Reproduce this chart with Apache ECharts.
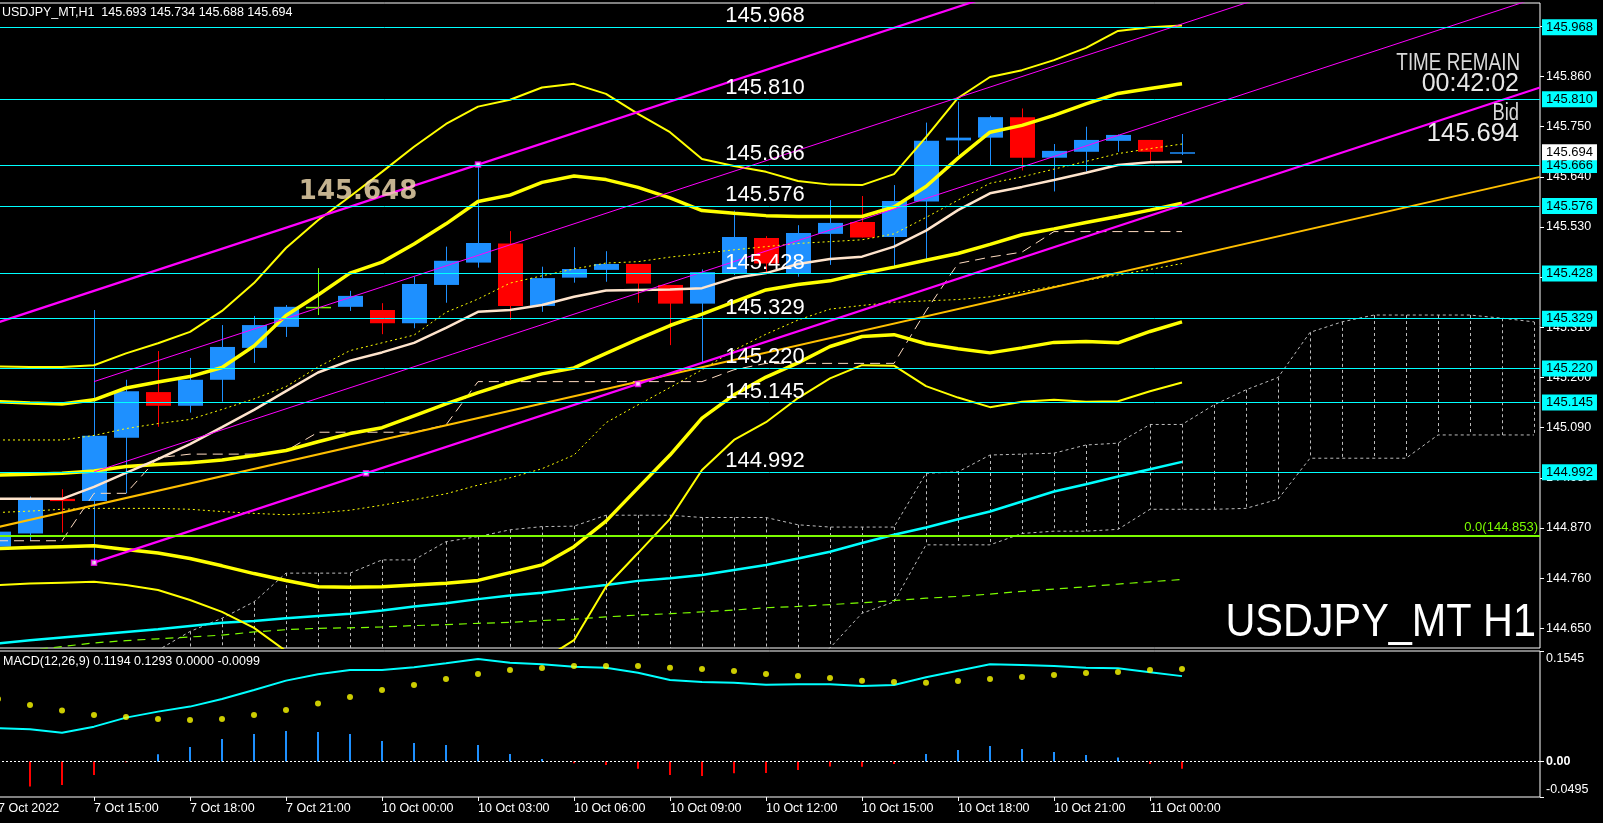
<!DOCTYPE html>
<html>
<head>
<meta charset="utf-8">
<title>USDJPY_MT H1</title>
<script src="https://cdn.jsdelivr.net/npm/echarts@6.0.0/dist/echarts.min.js"></script>
<style>
html,body{margin:0;padding:0;background:#000;overflow:hidden;}
#chart{width:1603px;height:823px;}
</style>
</head>
<body>
<div id="chart"></div>
<script>
const FONT = '"Liberation Sans", Arial, sans-serif';

// ---------- time axis: H1 bars, index 0 = 7 Oct 2022 12:00 ----------
const xTickIdx = [0,3,6,9,12,15,18,21,24,27,30,33,36];
const xTickLabels = ['7 Oct 2022','7 Oct 15:00','7 Oct 18:00','7 Oct 21:00','10 Oct 00:00','10 Oct 03:00',
  '10 Oct 06:00','10 Oct 09:00','10 Oct 12:00','10 Oct 15:00','10 Oct 18:00','10 Oct 21:00','11 Oct 00:00'];

// ---------- price axis tick labels ----------
const yTickLabels = ['144.650','144.760','144.870','144.980','145.090','145.200','145.310','145.420','145.530','145.640','145.750','145.860','145.970'];
const macdTickVals = [-0.0495, 0, 0.1545];
const macdTickLabels = ['-0.0495','0.00','0.1545'];

// ---------- candles (O,H,L,C) ----------
const opens  = [144.829,144.858,144.934,144.929,145.068,145.168,145.138,145.195,145.265,145.311,145.355,145.355,145.348,145.319,145.403,145.452,145.494,145.357,145.419,145.436,145.449,145.403,145.362,145.427,145.506,145.427,145.515,145.541,145.508,145.586,145.720,145.726,145.771,145.682,145.695,145.719,145.721,145.693];
const highs  = [144.872,144.939,144.955,145.348,145.195,145.258,145.243,145.315,145.335,145.359,145.440,145.390,145.363,145.421,145.487,145.667,145.521,145.443,145.486,145.477,145.449,145.403,145.437,145.566,145.510,145.534,145.589,145.598,145.622,145.759,145.805,145.774,145.790,145.712,145.750,145.733,145.721,145.734];
const lows   = [144.824,144.842,144.860,144.794,144.946,145.092,145.123,145.147,145.232,145.289,145.337,145.346,145.295,145.308,145.364,145.441,145.326,145.344,145.408,145.410,145.364,145.271,145.233,145.425,145.427,145.421,145.447,145.507,145.440,145.459,145.688,145.665,145.654,145.608,145.652,145.695,145.672,145.688];
const closes = [144.862,144.934,144.929,145.072,145.170,145.138,145.195,145.267,145.315,145.355,145.355,145.379,145.319,145.405,145.456,145.495,145.357,145.418,145.438,145.449,145.406,145.362,145.431,145.508,145.450,145.517,145.539,145.507,145.587,145.719,145.726,145.771,145.682,145.697,145.721,145.732,145.695,145.694];

// ---------- Bollinger bands ----------
const bbUpper3 = [145.224,145.223,145.223,145.227,145.253,145.275,145.300,145.346,145.407,145.484,145.545,145.597,145.651,145.706,145.756,145.794,145.809,145.836,145.844,145.822,145.778,145.738,145.679,145.664,145.651,145.631,145.623,145.622,145.646,145.727,145.813,145.859,145.874,145.896,145.923,145.960,145.968,145.972];
const bbUpper2 = [145.147,145.144,145.142,145.151,145.177,145.190,145.202,145.222,145.269,145.336,145.381,145.429,145.453,145.493,145.537,145.586,145.600,145.628,145.642,145.634,145.617,145.594,145.566,145.560,145.555,145.553,145.553,145.553,145.574,145.619,145.681,145.738,145.753,145.775,145.800,145.823,145.834,145.844];
const bbMid    = [144.986,144.988,144.990,144.995,145.005,145.009,145.013,145.019,145.029,145.040,145.059,145.077,145.090,145.116,145.142,145.167,145.189,145.208,145.221,145.253,145.284,145.314,145.339,145.366,145.392,145.404,145.412,145.428,145.442,145.457,145.472,145.492,145.513,145.526,145.540,145.553,145.567,145.582];
const bbLower2 = [144.825,144.827,144.829,144.831,144.823,144.815,144.803,144.787,144.770,144.755,144.741,144.740,144.741,144.745,144.749,144.755,144.772,144.789,144.829,144.885,144.958,145.030,145.111,145.162,145.201,145.232,145.268,145.290,145.294,145.274,145.263,145.254,145.265,145.277,145.279,145.276,145.301,145.322];
const bbLower3 = [144.745,144.748,144.750,144.752,144.745,144.734,144.712,144.686,144.651,144.600,144.570,144.550,144.545,144.550,144.550,144.540,144.570,144.580,144.624,144.741,144.815,144.890,144.997,145.063,145.102,145.155,145.198,145.227,145.226,145.181,145.156,145.135,145.147,145.151,145.147,145.148,145.170,145.189];

// ---------- moving averages / ichimoku lines ----------
const maPink    = [144.934,144.934,144.934,144.960,144.991,145.021,145.054,145.091,145.129,145.170,145.211,145.237,145.255,145.276,145.309,145.344,145.348,145.359,145.377,145.391,145.392,145.393,145.396,145.418,145.429,145.449,145.460,145.465,145.487,145.522,145.567,145.604,145.618,145.633,145.649,145.666,145.672,145.673];
const maDotUp   = [145.063,145.063,145.063,145.073,145.088,145.099,145.108,145.130,145.153,145.180,145.223,145.259,145.276,145.293,145.343,145.372,145.407,145.423,145.438,145.451,145.454,145.464,145.472,145.480,145.487,145.494,145.498,145.502,145.515,145.551,145.589,145.626,145.640,145.657,145.674,145.691,145.702,145.712];
const maDotLow  = [144.904,144.907,144.911,144.913,144.913,144.913,144.911,144.906,144.902,144.899,144.903,144.909,144.920,144.932,144.945,144.964,144.980,145.000,145.030,145.101,145.140,145.178,145.217,145.260,145.295,145.326,145.350,145.358,145.365,145.368,145.371,145.377,145.388,145.400,145.413,145.425,145.437,145.450];
const maCyan    = [144.617,144.624,144.630,144.636,144.642,144.648,144.655,144.662,144.666,144.672,144.677,144.682,144.689,144.698,144.705,144.714,144.722,144.728,144.737,144.745,144.754,144.760,144.767,144.778,144.789,144.803,144.818,144.837,144.855,144.871,144.889,144.906,144.928,144.950,144.966,144.983,144.999,145.015];
const maGreen   = [144.598,144.602,144.610,144.618,144.623,144.627,144.631,144.635,144.642,144.647,144.650,144.651,144.653,144.656,144.658,144.661,144.663,144.667,144.670,144.675,144.679,144.682,144.686,144.690,144.695,144.698,144.702,144.706,144.711,144.716,144.720,144.725,144.731,144.736,144.741,144.747,144.752,144.757];
const kijun     = [144.842,144.842,144.842,144.946,144.946,145.024,145.032,145.032,145.032,145.039,145.080,145.080,145.080,145.080,145.096,145.191,145.191,145.191,145.191,145.191,145.191,145.191,145.191,145.217,145.231,145.231,145.231,145.231,145.231,145.346,145.450,145.464,145.475,145.520,145.520,145.520,145.520,145.520];
// cloud spans (shifted 26 bars ahead, indices 0..48)
const spanA = [144.550,144.550,144.550,144.560,144.580,144.602,144.643,144.672,144.708,144.771,144.771,144.771,144.800,144.800,144.840,144.851,144.866,144.873,144.874,144.898,144.898,144.898,144.893,144.893,144.893,144.877,144.872,144.872,144.872,144.990,144.993,145.030,145.032,145.034,145.052,145.056,145.097,145.097,145.140,145.173,145.200,145.299,145.322,145.337,145.337,145.337,145.337,145.330,145.322];
const spanB = [144.450,144.450,144.450,144.450,144.450,144.450,144.450,144.450,144.450,144.450,144.450,144.450,144.450,144.450,144.450,144.450,144.450,144.450,144.450,144.450,144.450,144.450,144.450,144.450,144.450,144.560,144.607,144.683,144.708,144.833,144.833,144.833,144.858,144.863,144.863,144.867,144.911,144.911,144.911,144.913,144.933,145.023,145.023,145.023,145.023,145.074,145.074,145.074,145.074];

// ---------- drawn objects ----------
const hLevels = [145.968,145.810,145.666,145.576,145.428,145.329,145.220,145.145,144.992];
const fibLevel = 144.853;
const orangeTrend   = [[0,144.872],[48.1875,145.640]];
const chanLower     = [[3,144.794],[48.1875,145.836]];
const chanUpper     = [[-0.25,145.315],[31,146.036]];
const chanThinA     = [[3,145.191],[39.5,146.033]];
const chanThinB     = [[3,144.993],[48.1875,146.035]];
const chanAnchors   = [[3,144.794],[11.5,144.990],[20,145.186],[15,145.667]];
const priceNote     = [[9.4,145.648]];

// ---------- MACD(12,26,9) ----------
const macdMain = [0.0465,0.0451,0.0404,0.0488,0.0614,0.0698,0.0768,0.0875,0.1000,0.1131,0.1219,0.1280,0.1280,0.1317,0.1373,0.1433,0.1382,0.1359,0.1326,0.1312,0.1242,0.1140,0.1112,0.1103,0.1074,0.1080,0.1080,0.1056,0.1070,0.1177,0.1270,0.1359,0.1349,0.1336,0.1312,0.1303,0.1247,0.1194];
const macdSignal = [0.0875,0.0791,0.0712,0.0651,0.0623,0.0595,0.0581,0.0595,0.0651,0.0721,0.0810,0.0903,0.1000,0.1070,0.1154,0.1224,0.1280,0.1308,0.1336,0.1336,0.1336,0.1312,0.1294,0.1266,0.1224,0.1196,0.1168,0.1131,0.1112,0.1103,0.1126,0.1154,0.1182,0.1210,0.1238,0.1252,0.1280,0.1293];
const macdHist = [-0.0400,-0.0349,-0.0326,-0.0186,-0.0008,0.0102,0.0205,0.0317,0.0387,0.0428,0.0414,0.0387,0.0289,0.0261,0.0233,0.0233,0.0107,0.0037,-0.0023,-0.0047,-0.0102,-0.0186,-0.0200,-0.0163,-0.0158,-0.0116,-0.0070,-0.0074,-0.0033,0.0107,0.0163,0.0219,0.0177,0.0135,0.0093,0.0056,-0.0033,-0.0099];

// ======================================================================
const BULL = '#1e90ff', BEAR = '#ff0000', DOJI = '#7cfc00';
const X_MIN = -0.25, X_MAX = 48.1875;
const last = closes.length - 1;
const CLEAR = 'rgba(0,0,0,0)';

const candleData = opens.map((o,i)=>[i,o,closes[i],lows[i],highs[i]]);
const cloudData = spanA.map((a,i)=>[i,a,spanB[i]]);
const toXY = arr => arr.map((v,i)=>[i,v]);

function renderCandle(params, api){
  const i = api.value(0), o = api.value(1), c = api.value(2), l = api.value(3), h = api.value(4);
  const po = api.coord([i,o]), pc = api.coord([i,c]), pl = api.coord([i,l]), ph = api.coord([i,h]);
  const w = Math.round(api.size([1,0])[0]*0.78);
  const col = c>o ? BULL : (c<o ? BEAR : DOJI);
  const xr = Math.round(po[0]) + 0.5;
  const top = Math.min(po[1],pc[1]);
  const bh = Math.max(1.5, Math.abs(po[1]-pc[1]));
  return {type:'group', children:[
    {type:'line', shape:{x1:xr,y1:ph[1],x2:xr,y2:pl[1]}, style:{stroke:col,lineWidth:1}},
    {type:'rect', shape:{x:Math.round(po[0]-w/2), y:top, width:w, height:bh}, style:{fill:col}}
  ]};
}
function renderCloudBar(params, api){
  const cs = params.coordSys;
  const p1 = api.coord([api.value(0), api.value(1)]);
  const p2 = api.coord([api.value(0), api.value(2)]);
  const y1 = Math.max(Math.min(p1[1],p2[1]), cs.y);
  const y2 = Math.min(Math.max(p1[1],p2[1]), cs.y + cs.height);
  if (y2 <= y1) return null;
  const x = Math.round(p1[0]) + 0.5;
  return {type:'line', shape:{x1:x,y1:y1,x2:x,y2:y2}, style:{stroke:'#bcbcbc', lineWidth:1, lineDash:[3,3]}};
}

const L = (name, data, color, width, type, z) => ({
  name, type:'line', xAxisIndex:0, yAxisIndex:0, data, showSymbol:false, symbol:'none',
  silent:true, z: z || 3, clip:true, lineStyle:{color, width, type: type || 'solid'}
});

const option = {
  backgroundColor:'#000',
  animation:false,
  grid:[
    {left:-10, top:3, width:1550, height:645, show:true, borderColor:'#ffffff', borderWidth:1, backgroundColor:'transparent', outerBoundsMode:'none', containLabel:false},
    {left:-10, top:651, width:1550, height:146, show:true, borderColor:'#ffffff', borderWidth:1, backgroundColor:'transparent', outerBoundsMode:'none', containLabel:false}
  ],
  xAxis:[
    {type:'value', gridIndex:0, min:X_MIN, max:X_MAX, show:false, splitLine:{show:false}, axisLine:{show:false, onZero:false}},
    {type:'value', gridIndex:1, min:X_MIN, max:X_MAX, splitLine:{show:false},
     axisLine:{show:false, onZero:false},
     axisTick:{show:true, customValues:xTickIdx, length:4, lineStyle:{color:'#fff'}},
     axisLabel:{show:true, customValues:xTickIdx, color:'#fff', fontFamily:FONT, fontSize:12.5, align:'left', margin:5,
       formatter:(v)=>{const k = xTickIdx.indexOf(Math.round(v)); return k>=0 ? xTickLabels[k] : '';}}}
  ],
  yAxis:[
    {type:'value', gridIndex:0, position:'right', min:144.6068, max:146.0213, scale:true,
     splitLine:{show:false}, axisLine:{show:false, onZero:false},
     axisTick:{show:true, customValues:yTickLabels.map(Number), length:4, lineStyle:{color:'#fff'}},
     axisLabel:{show:true, customValues:yTickLabels.map(Number), color:'#fff', fontFamily:FONT, fontSize:12.5, margin:6,
       formatter:(v)=>{const k = yTickLabels.map(Number).findIndex(t=>Math.abs(t-v)<1e-6); return k>=0 ? yTickLabels[k] : '';}}},
    {type:'value', gridIndex:1, position:'right', min:-0.0495, max:0.1545,
     splitLine:{show:false}, axisLine:{show:false, onZero:false},
     axisTick:{show:true, customValues:macdTickVals, length:4, lineStyle:{color:'#fff'}},
     axisLabel:{show:true, customValues:macdTickVals, color:'#fff', fontFamily:FONT, fontSize:12.5, margin:6,
       formatter:(v)=>{
         const k = macdTickVals.findIndex(t=>Math.abs(t-v)<1e-7);
         if (k<0) return '';
         if (k===macdTickVals.length-1) return '{t|'+macdTickLabels[k]+'}';
         if (k===0) return '{b|'+macdTickLabels[k]+'}';
         return '{m|'+macdTickLabels[k]+'}';
       },
       rich:{
         t:{color:'#fff', fontFamily:FONT, fontSize:12.5, padding:[16,0,0,0]},
         b:{color:'#fff', fontFamily:FONT, fontSize:12.5, padding:[0,0,14,0]},
         m:{color:'#fff', fontFamily:FONT, fontSize:12.5, fontWeight:'bold'}
       }}}
  ],
  series:[
    // ichimoku cloud
    {name:'cloud', type:'custom', xAxisIndex:0, yAxisIndex:0, data:cloudData, renderItem:renderCloudBar,
     encode:{x:0, y:[1,2]}, silent:true, z:1},
    L('spanA', toXY(spanA), '#bcbcbc', 1, [3,3], 1),
    L('spanB', toXY(spanB), '#bcbcbc', 1, [3,3], 1),
    // candles
    {name:'USDJPY', type:'custom', xAxisIndex:0, yAxisIndex:0, data:candleData, renderItem:renderCandle,
     encode:{x:0, y:[1,2,3,4]}, silent:true, z:2},
    // indicators
    L('maGreen', toXY(maGreen), '#7cfc00', 1.2, [8,6]),
    L('maCyan', toXY(maCyan), '#00ffff', 2.5),
    L('maDotLow', toXY(maDotLow), '#ffff00', 1, [2,3]),
    L('maDotUp', toXY(maDotUp), '#ffff00', 1, [2,3]),
    L('kijun', toXY(kijun), '#ffdcc0', 1, [10,6]),
    L('bbUpper3', toXY(bbUpper3), '#ffff00', 2),
    L('bbLower3', toXY(bbLower3), '#ffff00', 2),
    L('bbUpper2', toXY(bbUpper2), '#ffff00', 3.5),
    L('bbMid', toXY(bbMid), '#ffff00', 3.5),
    L('bbLower2', toXY(bbLower2), '#ffff00', 3.5),
    L('maPink', toXY(maPink), '#ffe4cc', 2.5),
    // trend objects
    L('orange', orangeTrend, '#ffbf00', 2, 'solid', 4),
    L('chanThinA', chanThinA, '#ff00ff', 1, 'solid', 4),
    L('chanThinB', chanThinB, '#ff00ff', 1, 'solid', 4),
    L('chanUpper', chanUpper, '#ff00ff', 2.2, 'solid', 4),
    L('chanLower', chanLower, '#ff00ff', 2.2, 'solid', 4),
    {name:'anchors', type:'scatter', xAxisIndex:0, yAxisIndex:0, data:chanAnchors, symbol:'rect', symbolSize:5,
     itemStyle:{color:'#ffffff', borderColor:'#ff00ff', borderWidth:1.5}, silent:true, z:4},
    // horizontal lines with right-hand price boxes
    {name:'hlines', type:'line', xAxisIndex:0, yAxisIndex:0, data:[], silent:true, z:5,
     markLine:{symbol:'none', silent:true, animation:false, precision:3,
       lineStyle:{color:'#00ffff', width:1, type:'solid'},
       label:{show:true, position:'end', distance:2, formatter:(p)=>Number(p.value).toFixed(3),
         backgroundColor:'#00ffff', color:'#000', fontFamily:FONT, fontSize:13, padding:[2,4,1,4]},
       data:hLevels.map(v=>({yAxis:v}))}},
    // descriptions in the middle of the lines
    {name:'hlineText', type:'line', xAxisIndex:0, yAxisIndex:0, data:[], silent:true, z:6,
     markLine:{symbol:'none', silent:true, animation:false, precision:3,
       lineStyle:{color:CLEAR, width:1, type:'solid'},
       label:{show:true, position:'insideMiddleTop', distance:0, formatter:(p)=>Number(p.value).toFixed(3),
         color:'#ffffff', fontFamily:FONT, fontSize:22},
       data:hLevels.map(v=>({yAxis:v}))}},
    // bid label
    {name:'bid', type:'line', xAxisIndex:0, yAxisIndex:0, data:[], silent:true, z:6,
     markLine:{symbol:'none', silent:true, animation:false, precision:3,
       lineStyle:{color:CLEAR, width:1, type:'solid'},
       label:{show:true, position:'end', distance:2, formatter:(p)=>Number(p.value).toFixed(3),
         backgroundColor:'#ffffff', color:'#000', fontFamily:FONT, fontSize:13, padding:[2,4,1,4]},
       data:[{yAxis:closes[last]}]}},
    // fibonacci 0.0 line
    {name:'fib', type:'line', xAxisIndex:0, yAxisIndex:0, data:[], silent:true, z:5,
     markLine:{symbol:'none', silent:true, animation:false, precision:3,
       lineStyle:{color:'#7cfc00', width:2, type:'solid'},
       label:{show:true, position:'insideEndTop', distance:2, formatter:(p)=>'0.0('+Number(p.value).toFixed(3)+')',
         color:'#7cfc00', fontFamily:FONT, fontSize:13},
       data:[{yAxis:fibLevel}]}},
    // price note text object
    {name:'note', type:'scatter', xAxisIndex:0, yAxisIndex:0, data:priceNote, symbolSize:0, silent:true, z:6,
     label:{show:true, position:'inside', align:'left', verticalAlign:'top', offset:[0,6],
       formatter:(p)=>p.value[1].toFixed(3), color:'#f5deb3', fontFamily:'"DejaVu Sans", sans-serif', fontWeight:'bold', fontSize:26}},
    // ----- MACD -----
    {name:'hist', type:'bar', xAxisIndex:1, yAxisIndex:1, data:toXY(macdHist), barWidth:2, silent:true, z:2,
     itemStyle:{color:(p)=> p.value[1] >= 0 ? BULL : BEAR},
     markLine:{symbol:'none', silent:true, animation:false, label:{show:false},
       lineStyle:{color:'#ffffff', width:1, type:[2,2]}, data:[{yAxis:0}]}},
    {name:'macd', type:'line', xAxisIndex:1, yAxisIndex:1, data:toXY(macdMain), showSymbol:false, symbol:'none',
     silent:true, z:3, lineStyle:{color:'#00ffff', width:2}},
    {name:'signal', type:'scatter', xAxisIndex:1, yAxisIndex:1, data:toXY(macdSignal), symbolSize:6,
     itemStyle:{color:'#ffff00'}, silent:true, z:4}
  ],
  graphic:[
    {type:'text', x:2, y:13, silent:true, z:100,
     style:{text:'USDJPY_MT,H1  '+[opens[last],highs[last],lows[last],closes[last]].map(v=>v.toFixed(3)).join(' '),
       fill:'#ffffff', font:'12.5px '+FONT, align:'left', verticalAlign:'middle'}},
    {type:'text', x:3, y:662, silent:true, z:100,
     style:{text:'MACD(12,26,9) '+[macdMain[last],macdSignal[last],0,macdHist[last]].map(v=>v.toFixed(4)).join(' '),
       fill:'#ffffff', font:'12.5px '+FONT, align:'left', verticalAlign:'middle'}},
    {type:'text', x:1520, y:63.5, scaleX:0.82, silent:true, z:100,
     style:{text:'TIME REMAIN', fill:'#d9d9d9', font:'23px '+FONT, align:'right', verticalAlign:'middle'}},
    {type:'text', x:1519, y:84, silent:true, z:100,
     style:{text:'00:42:02', fill:'#e6e6e6', font:'25px '+FONT, align:'right', verticalAlign:'middle'}},
    {type:'text', x:1519, y:113.5, scaleX:0.8, silent:true, z:100,
     style:{text:'Bid', fill:'#d9d9d9', font:'23px '+FONT, align:'right', verticalAlign:'middle'}},
    {type:'text', x:1519, y:134, silent:true, z:100,
     style:{text:closes[last].toFixed(3), fill:'#ededed', font:'25.5px '+FONT, align:'right', verticalAlign:'middle'}},
    {type:'text', x:1536, y:623, scaleX:0.9, silent:true, z:100,
     style:{text:'USDJPY_MT H1', fill:'#ffffff', font:'46px '+FONT, align:'right', verticalAlign:'middle'}}
  ]
};

const chart = echarts.init(document.getElementById('chart'), null, {renderer:'canvas', width:1603, height:823});
chart.setOption(option);
</script>
</body>
</html>
